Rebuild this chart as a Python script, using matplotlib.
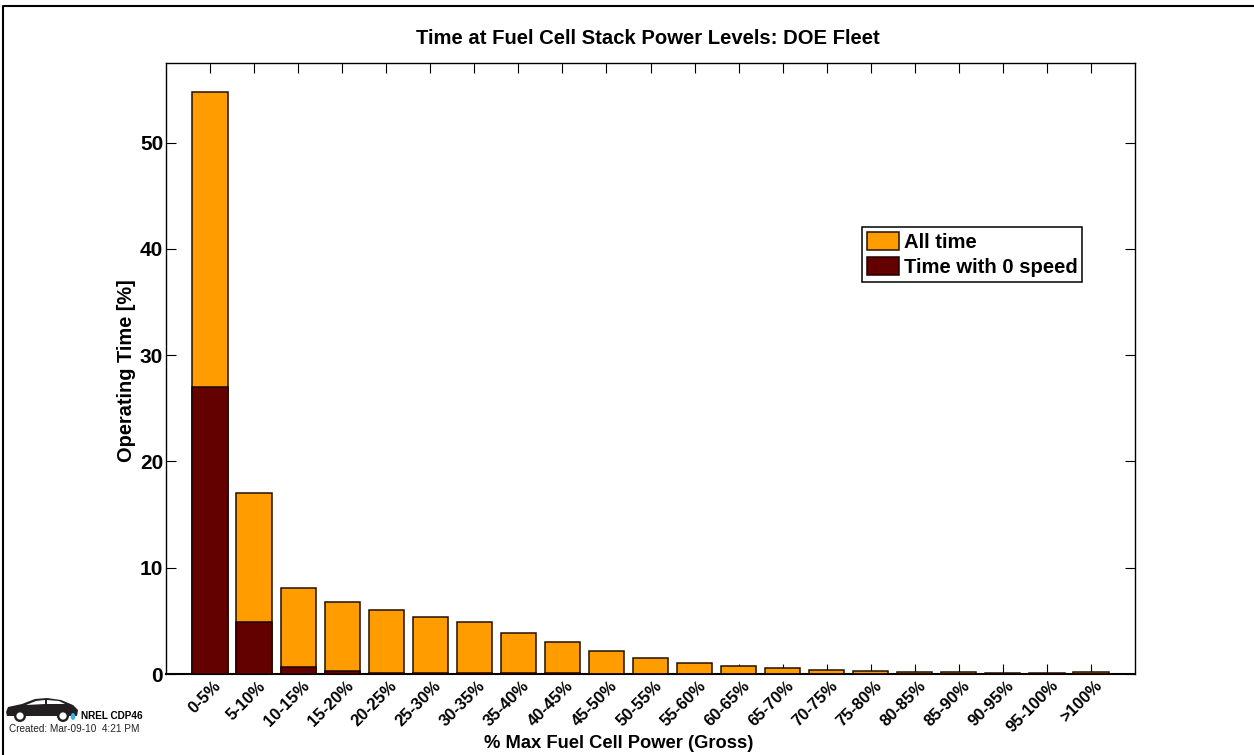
import matplotlib
matplotlib.use('Agg')
import matplotlib.pyplot as plt
from matplotlib.lines import Line2D
from matplotlib.patches import Polygon, Circle, Ellipse
from matplotlib.transforms import ScaledTranslation

categories = ['0-5%', '5-10%', '10-15%', '15-20%', '20-25%', '25-30%', '30-35%',
              '35-40%', '40-45%', '45-50%', '50-55%', '55-60%', '60-65%', '65-70%',
              '70-75%', '75-80%', '80-85%', '85-90%', '90-95%', '95-100%', '>100%']
all_time = [54.8, 17.0, 8.05, 6.75, 6.05, 5.4, 4.85, 3.9, 3.0, 2.2, 1.5, 1.03,
            0.75, 0.55, 0.37, 0.27, 0.2, 0.2, 0.12, 0.12, 0.2]
zero_speed = [27.0, 4.9, 0.65, 0.25, 0.13, 0.1, 0.08, 0.06, 0.05, 0.04, 0.03, 0.02,
              0.02, 0.01, 0.01, 0.01, 0.01, 0.01, 0.01, 0.01, 0.01]

orange = '#ff9c00'
maroon = '#630000'

W, H = 1254, 755
plt.rcParams['font.family'] = ['Liberation Sans', 'DejaVu Sans']
fig = plt.figure(figsize=(W / 100, H / 100), dpi=100)

# outer border only shows on the left and top
fig.add_artist(Line2D([3 / W, 3 / W, 1], [0, 1 - 6 / H, 1 - 6 / H], transform=fig.transFigure,
                      color='black', lw=1.5))

ax = fig.add_axes([166 / W, 1 - 674 / H, 969 / W, 611 / H])
xs = list(range(1, len(categories) + 1))
ax.bar(xs, all_time, width=0.8, color=orange, edgecolor='#201000', linewidth=1.1, label='All time', zorder=3)
ax.bar(xs, zero_speed, width=0.8, color=maroon, edgecolor='#200000', linewidth=1.1, label='Time with 0 speed', zorder=3)

ax.set_xlim(0, 22)
ax.set_ylim(0, 57.5)
ax.set_yticks([0, 10, 20, 30, 40, 50])
ax.set_xticks(xs)
ax.set_xticklabels(categories, rotation=45, ha='right', rotation_mode='anchor', fontsize=12, fontweight='bold')
ax.tick_params(axis='x', direction='in', top=True, length=7.2, width=0.8, pad=3, zorder=1)
ax.tick_params(axis='y', direction='in', right=True, length=7.2, width=0.8, pad=2, labelsize=15)
shift = ScaledTranslation(3.5 / 100, 0, fig.dpi_scale_trans)
for lab in ax.get_xticklabels():
    lab.set_transform(lab.get_transform() + shift)
for lab in ax.get_yticklabels():
    lab.set_fontweight('bold')
for s in ax.spines.values():
    s.set_linewidth(1.0)
ax.spines['bottom'].set_linewidth(1.5)

fig.text(648 / W, 1 - 39 / H, 'Time at Fuel Cell Stack Power Levels: DOE Fleet', ha='center', va='center',
         fontsize=14.6, fontweight='bold')
fig.text(126 / W, 1 - 371 / H, 'Operating Time [%]', rotation=90, ha='center', va='center',
         fontsize=14.4, fontweight='bold')
fig.text(619 / W, 1 - 744 / H, '% Max Fuel Cell Power (Gross)', ha='center', va='center',
         fontsize=13.2, fontweight='bold')

leg = ax.legend(loc='upper left', bbox_to_anchor=((862 - 166) / 969, (674 - 227) / 611), borderaxespad=0,
                frameon=True, fancybox=False, framealpha=1, edgecolor='black',
                prop={'size': 14.6, 'weight': 'bold'}, handlelength=1.55, handleheight=1.0,
                handletextpad=0.25, labelspacing=0.22, borderpad=0.25)
leg.get_frame().set_linewidth(1.1)

# little car logo and stamp
car = fig.add_axes([0, 0, 1, 1], zorder=5)
car.set_xlim(0, W)
car.set_ylim(H, 0)
car.axis('off')
car.patch.set_alpha(0)
car.add_patch(Polygon([(6, 712), (8, 707), (22, 704), (35, 699), (47, 698), (61, 700), (73, 705),
                       (78, 710), (77, 716), (68, 716), (14, 716), (7, 716)], closed=True, fc='#231f20', ec='none'))
car.add_patch(Polygon([(26, 705), (36, 701), (45, 700), (45, 704)], closed=True, fc='white', ec='none'))
car.add_patch(Polygon([(47, 700), (59, 701), (65, 704), (47, 704)], closed=True, fc='white', ec='none'))
for cx in (20, 63):
    car.add_patch(Circle((cx, 716), 6, fc='#231f20', ec='none'))
    car.add_patch(Circle((cx, 716), 3.6, fc='white', ec='none'))
car.add_patch(Ellipse((73, 716.5), 4.5, 7, fc='#3ab0e0', ec='none'))
car.text(81, 716, 'NREL CDP46', fontsize=7.2, fontweight='bold', va='center', ha='left')
car.text(9, 729.5, 'Created: Mar-09-10  4:21 PM', fontsize=7.2, va='center', ha='left', color='#222222')

fig.savefig('out.png', dpi=100)
